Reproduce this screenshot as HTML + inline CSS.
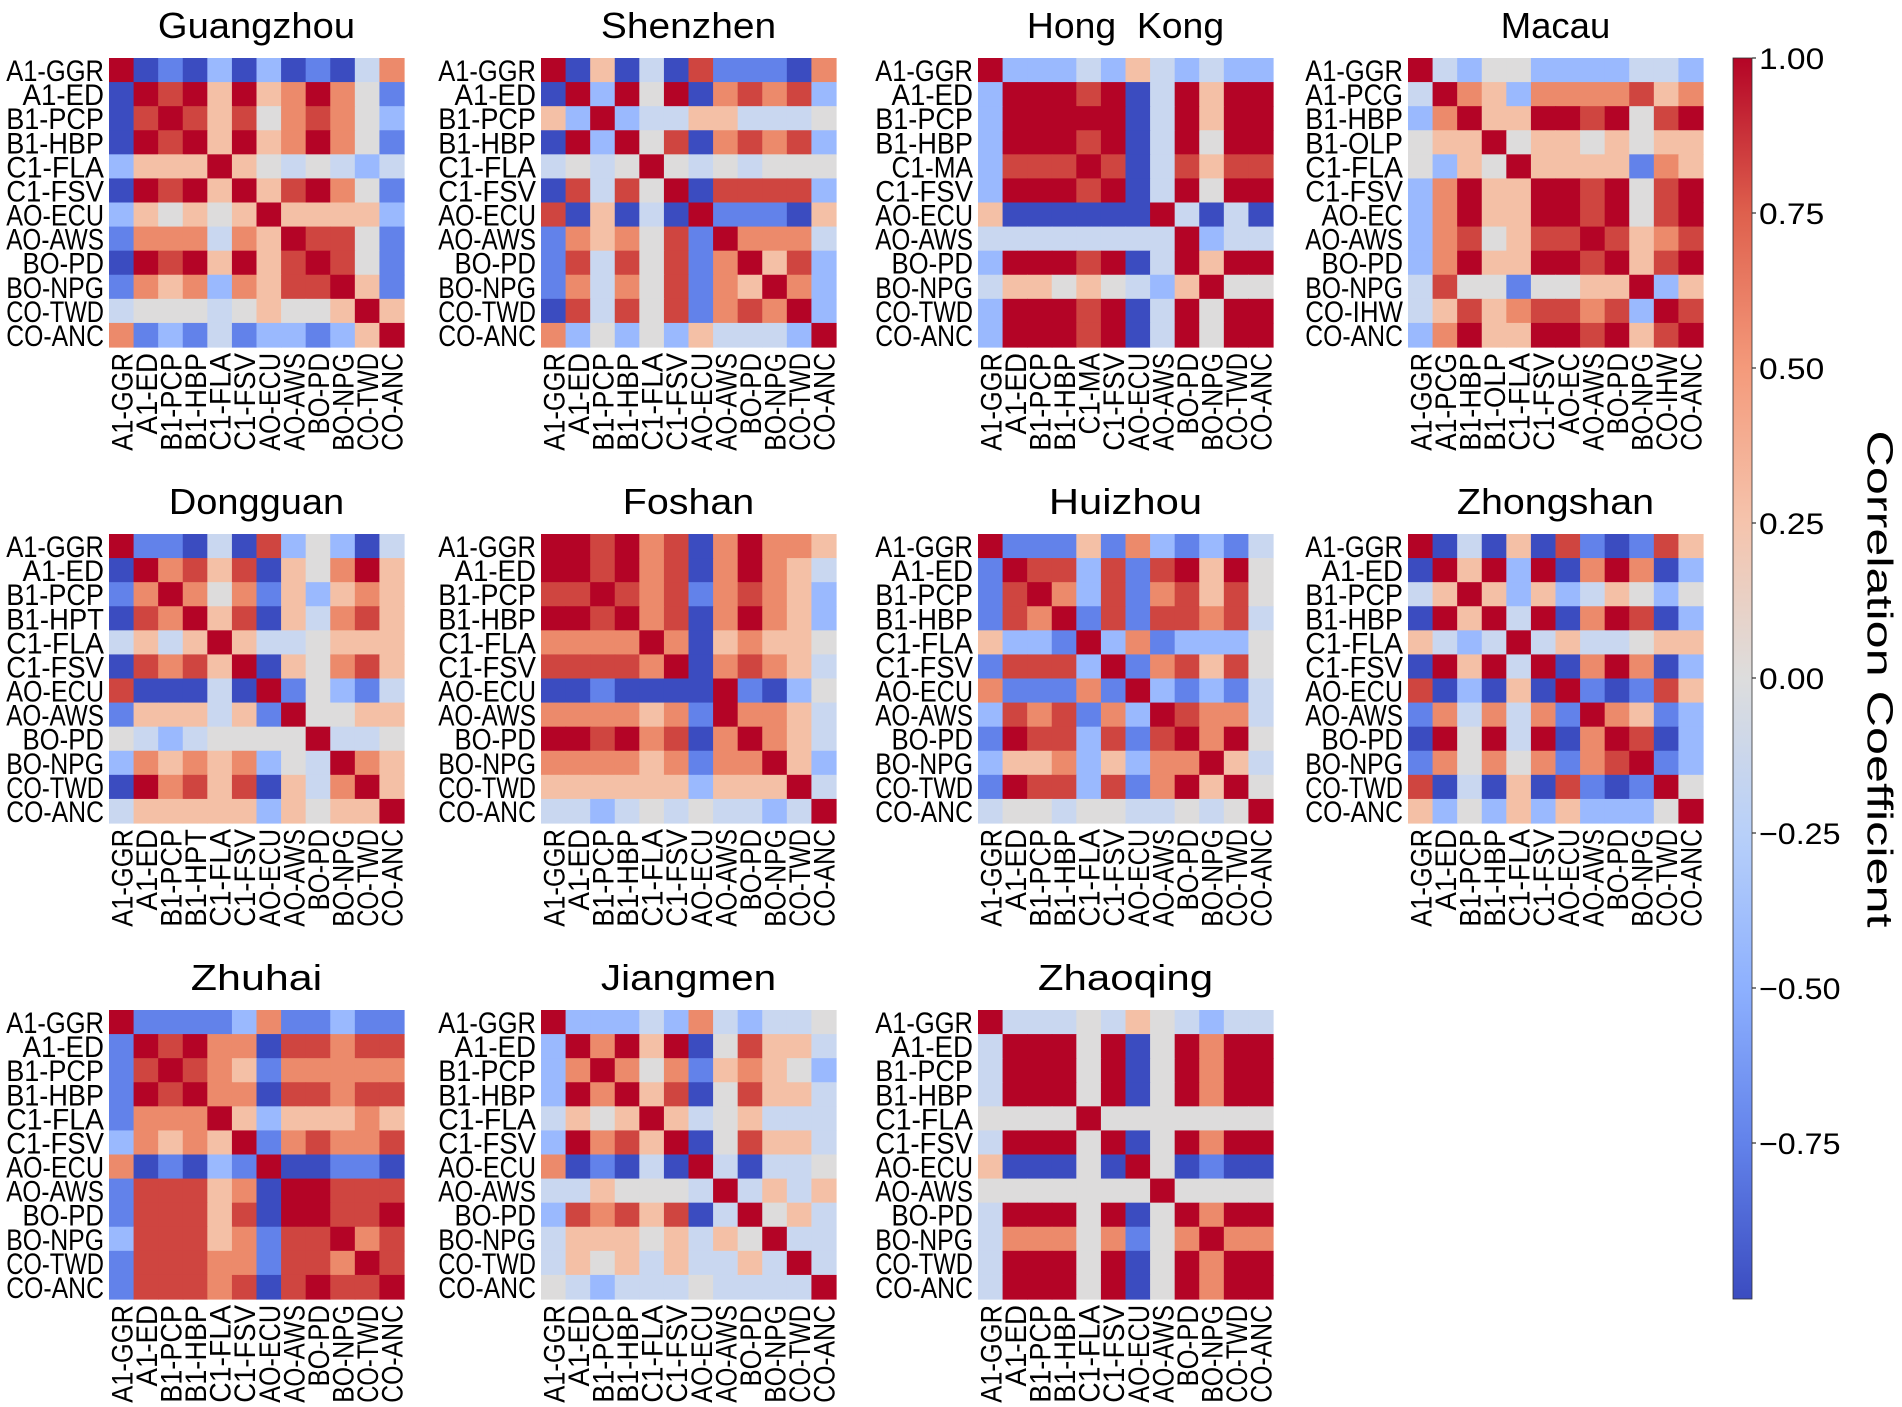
<!DOCTYPE html>
<html><head><meta charset="utf-8">
<style>
html,body{margin:0;padding:0;background:#fff;}
svg{display:block;}
text{font-family:"Liberation Sans","Noto Sans CJK SC",sans-serif;fill:#000;}
</style></head>
<body>
<svg id="s" width="1902" height="1407" viewBox="0 0 1902 1407" xmlns="http://www.w3.org/2000/svg">
<defs>
<linearGradient id="cw" x1="0" y1="1" x2="0" y2="0">
<stop offset="0" stop-color="#3b4cc0"/>
<stop offset="0.125" stop-color="#6282ea"/>
<stop offset="0.25" stop-color="#8db0fe"/>
<stop offset="0.375" stop-color="#b8d0f9"/>
<stop offset="0.5" stop-color="#dddddd"/>
<stop offset="0.625" stop-color="#f5c4ad"/>
<stop offset="0.75" stop-color="#f49a7b"/>
<stop offset="0.875" stop-color="#de604d"/>
<stop offset="1" stop-color="#b40426"/>
</linearGradient>
</defs>
<g id="g"></g>
<rect x="1733" y="58" width="19" height="1241" fill="url(#cw)" stroke="#333" stroke-width="0.8"/>
<text x="1877" y="679" font-size="36" text-anchor="middle" transform="rotate(90 1877 679)" textLength="497" lengthAdjust="spacingAndGlyphs" dominant-baseline="middle">Correlation Coefficient</text>
</svg>
<script>
var P=["#3b4cc0","#6282ea","#9ab9fe","#c9d7f0","#dddcdc","#f4c0a6","#ec8a6b","#cf4540","#b40426"];
var D=["A1-GGR","A1-ED","B1-PCP","B1-HBP","C1-FLA","C1-FSV","AO-ECU","AO-AWS","BO-PD","BO-NPG","CO-TWD","CO-ANC"];
function L(i,r){var a=D.slice();for(var k in r)a[k]=r[k];return a;}
var maps=[
["Guangzhou",0,0,D,"801020201036 087858568641 078757467642 087858568641 255585434323 087858578641 254545855552 166636587741 087858578741 165626577851 344434544585 612131221258"],
["Shenzhen",1,0,D,"805030711106 082848067672 528233553334 082847067672 343484343444 073748077772 705030811105 165647186663 173747168572 163647165862 073747167682 624242533328"],
["Hong  Kong",2,0,L(0,{4:"C1-MA"}),"822232532322 288878038588 288888038588 288878038488 277787037577 288878038488 500000083030 333333338233 288878038588 355454325844 288878038488 288878038488"],
["Macau",3,0,["A1-GGR","A1-PCG","B1-HBP","B1-OLP","C1-FLA","C1-FSV","AO-EC","AO-AWS","BO-PD","BO-NPG","CO-IHW","CO-ANC"],"832442222332 386526666756 268558878478 455845545455 425485555165 268558878478 268558878478 267457787567 268558878578 374414455825 357567767287 268558878578"],
["Dongguan",0,1,L(0,{3:"B1-HPT"}),"811030724203 086757054685 168646152565 076857053675 353585334555 076758054675 700030814213 155535184455 432344448334 265656243865 086757053685 355555254558"],
["Foshan",1,1,D,"887867068665 887867068653 778767167652 887867068652 666686056554 777768067653 001000081024 666656186653 887867068653 666656166852 555555255583 332343433238"],
["Huizhou",2,1,D,"811151621213 187727178584 178627167574 176817177673 522182612224 177728167574 611161821213 276716287663 187727178684 255625266853 187727168584 344344334348"],
["Zhongshan",3,1,D,"803050710175 085828068602 358525235424 085838068702 532383533455 085838068602 702050810175 163636186512 084838068702 164646167812 703050710184 524252522248"],
["Zhuhai",0,2,D,"811112611211 187866077677 178765166666 187866077677 166685255565 265658167667 601021800110 177756088777 177757088778 277756177867 177766177687 177767078778"],
["Jiangmen",1,2,D,"822232632334 286858047553 268646156542 286857047553 354585345333 286758047553 601030830334 335444383535 276757038453 355545354833 354535335383 432333433338"],
["Zhaoqing",2,2,D,"833343543233 388848048688 388848048688 388848048688 444484444444 388848048688 500040840100 444444484444 388848048688 366646146866 388848048688 388848048688"]
];
var XS=[109,541,978,1408],YS=[58,534,1010],W=295,H=289,cw=W/12,ch=H/12;
var o="";
function t(s,x,y,fs,len,extra){return '<text x="'+x+'" y="'+y+'" font-size="'+fs+'" textLength="'+len+'" lengthAdjust="spacingAndGlyphs" '+(extra||'')+'>'+s+'</text>';}
maps.forEach(function(m){
 var x0=XS[m[1]],y0=YS[m[2]],rows=m[4].split(" "),lab=m[3];
 for(var i=0;i<12;i++)for(var j=0;j<12;j++){
  o+='<rect x="'+(x0+j*cw).toFixed(2)+'" y="'+(y0+i*ch).toFixed(2)+'" width="'+(cw+0.6).toFixed(2)+'" height="'+(ch+0.6).toFixed(2)+'" fill="'+P[+rows[i][j]]+'"/>';
 }
 var tl=m[0].replace(/ /g,"").length*21.9+(m[0].indexOf(" ")>=0?22:0);
 o+=t(m[0].replace(/  /g,"\u00a0\u00a0"),x0+W/2,y0-20,36,tl,'text-anchor="middle"');
 for(var i=0;i<12;i++){
  var n=lab[i].length*16.3;
  o+=t(lab[i],x0-5,(y0+(i+0.5)*ch+11).toFixed(1),30,n,'text-anchor="end"');
  var cx=(x0+(j=i,(i+0.5)*cw)+11).toFixed(1),cy=y0+H+6;
  o+=t(lab[i],cx,cy,30,n,'text-anchor="end" transform="rotate(-90 '+cx+' '+cy+')"');
 }
});
var tk=["1.00","0.75","0.50","0.25","0.00","\u22120.25","\u22120.50","\u22120.75"];
for(var k=0;k<8;k++){var y=58+k*155;
 o+='<line x1="1752" y1="'+y+'" x2="1756" y2="'+y+'" stroke="#000" stroke-width="1"/>';
 o+=t(tk[k],1759,y+11,30,tk[k].length*16.3,'');
}
document.getElementById("g").innerHTML=o;
</script>
</body></html>
